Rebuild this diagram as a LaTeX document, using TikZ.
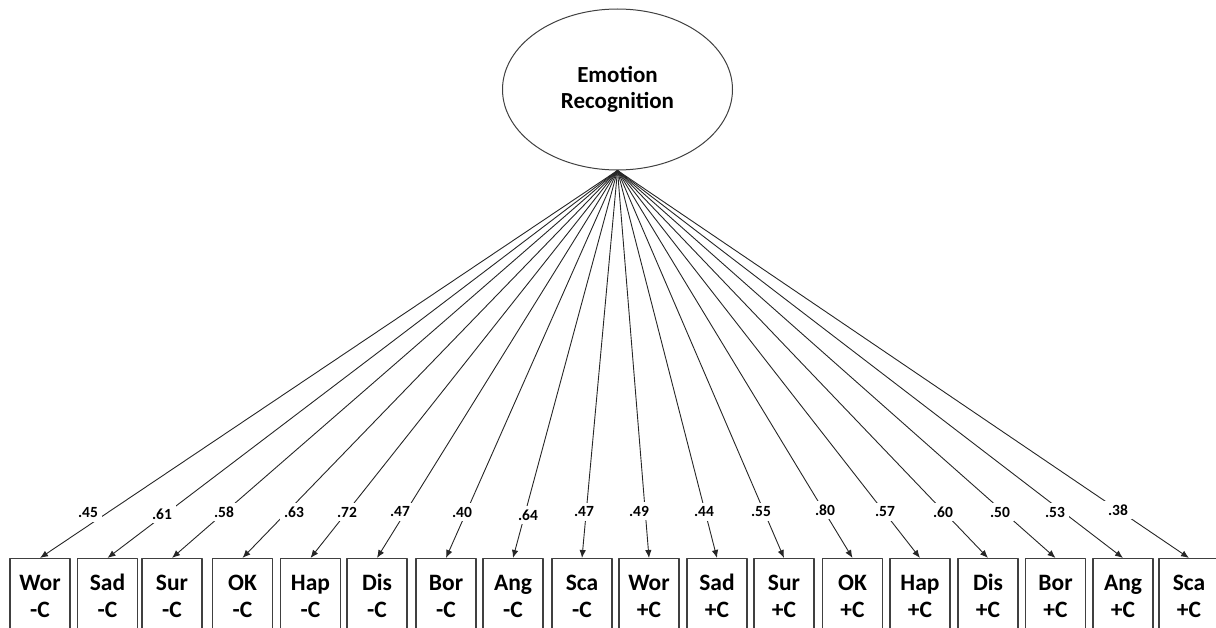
\documentclass[tikz,border=0pt]{standalone}
\usepackage{fontspec}
\setmainfont{Carlito}
\usetikzlibrary{arrows.meta, positioning, shapes.geometric}
\tikzset{
  >={Latex[length=8pt, width=6.5pt]},
  every picture/.style={line cap=round, line join=round},
  % latent factor and its indicators
  latent/.style={ellipse, draw=black!75, line width=1pt, minimum width=230pt, minimum height=161pt,
    inner sep=0pt, align=center, font=\bfseries\fontsize{23}{26}\selectfont},
  obsbox/.style={rectangle, draw=black!75, line width=1.2pt, anchor=north, minimum width=60pt,
    minimum height=74pt, inner sep=0pt, align=center, font=\bfseries\fontsize{23.5}{27.5}\selectfont},
  loading/.style={->, black!85, line width=0.9pt},
  wt/.style={fill=white, inner sep=4pt, font=\bfseries\fontsize{15.5}{17}\selectfont},
}

\begin{document}
\begin{tikzpicture}[x=1pt, y=-1pt]
  \useasboundingbox (0,0) rectangle (1216,628);
  \clip (0,0) rectangle (1216,628);
  \node[latent] (emo) at (617.5,89.5) {Emotion\\Recognition};
  % indicators: -C then +C, with standardised loadings
  \foreach \i/\x/\lab/\w/\wx/\wy in {
      1/40/Wor\\-C/.45/88/513,     2/107.5/Sad\\-C/.61/162/514,
      3/172/Sur\\-C/.58/224/512,   4/242.5/OK\\-C/.63/294/512,
      5/310.5/Hap\\-C/.72/347/512, 6/377/Dis\\-C/.47/400/512,
      7/446/Bor\\-C/.40/462/512,   8/513/Ang\\-C/.64/528/515,
      9/582/Sca\\-C/.47/584/512,   10/649/Wor\\+C/.49/639/511,
      11/717/Sad\\+C/.44/704/512,  12/784/Sur\\+C/.55/761/512,
      13/852.5/OK\\+C/.80/825/510, 14/920/Hap\\+C/.57/885/512,
      15/988/Dis\\+C/.60/943/512,  16/1055.5/Bor\\+C/.50/1000/512,
      17/1123/Ang\\+C/.53/1055/512, 18/1189/Sca\\+C/.38/1118/510}
  {
    \node[obsbox] (ind\i) at (\x,558) {\vphantom{d}\lab};
    \draw[loading] (emo.south) -- (ind\i.north);
    \node[wt] (w\i) at (\wx,\wy) {\w};
  }
\end{tikzpicture}
\end{document}
